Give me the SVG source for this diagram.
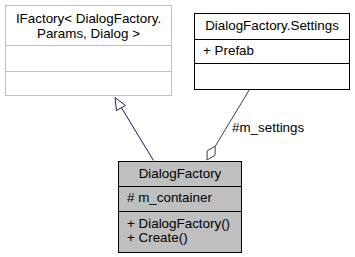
<svg xmlns="http://www.w3.org/2000/svg" width="355" height="257" viewBox="0 0 355 257">
  <style>
    text { font-family: "Liberation Sans", Arial, sans-serif; font-size: 13.4px; fill: #000; }
    .c { text-anchor: middle; }
    .ext rect, .ext line { stroke: #bfbfbf; fill: #fff; }
    .doc rect, .doc line { stroke: #000; fill: #fff; }
    .cur rect, .cur line { stroke: #000; fill: #bfbfbf; }
    .inherit { stroke: #191970; fill: #fff; }
    .aggr { stroke: #404040; fill: #fff; }
  </style>
  <rect width="355" height="257" fill="#fff"/>

  <g id="connectors">
    <!-- generalization: DialogFactory -> IFactory -->
    <line class="inherit" x1="153.5" y1="160.5" x2="121" y2="107"/>
    <polygon class="inherit" points="115,97.5 125.5,105.5 116.5,110.5"/>
    <!-- aggregation: DialogFactory owns m_settings -->
    <line class="aggr" x1="249.5" y1="89.5" x2="215.2" y2="146.3"/>
    <polygon class="aggr" points="207,160 207.2,150.8 215.2,146.3 215,155.4"/>
    <text x="232" y="132">#m_settings</text>
  </g>

  <g id="IFactory" class="ext">
    <rect x="5.5" y="5.5" width="166" height="90"/>
    <line x1="5.5" y1="45.5" x2="171.5" y2="45.5"/>
    <line x1="5.5" y1="71.5" x2="171.5" y2="71.5"/>
    <text class="c" x="88.5" y="23">IFactory&lt; DialogFactory.</text>
    <text class="c" x="88.5" y="38">Params, Dialog &gt;</text>
  </g>

  <g id="DialogFactory.Settings" class="doc">
    <rect x="194.5" y="13.5" width="155" height="76"/>
    <line x1="194.5" y1="39.5" x2="349.5" y2="39.5"/>
    <line x1="194.5" y1="63.5" x2="349.5" y2="63.5"/>
    <text class="c" x="272" y="30">DialogFactory.Settings</text>
    <text x="203" y="55">+ Prefab</text>
  </g>

  <g id="DialogFactory" class="cur">
    <rect x="118.5" y="161.5" width="123" height="91"/>
    <line x1="118.5" y1="186.5" x2="241.5" y2="186.5"/>
    <line x1="118.5" y1="211.5" x2="241.5" y2="211.5"/>
    <text class="c" x="180" y="178">DialogFactory</text>
    <text x="127" y="202"># m_container</text>
    <text x="127" y="228">+ DialogFactory()</text>
    <text x="127" y="242">+ Create()</text>
  </g>
</svg>
